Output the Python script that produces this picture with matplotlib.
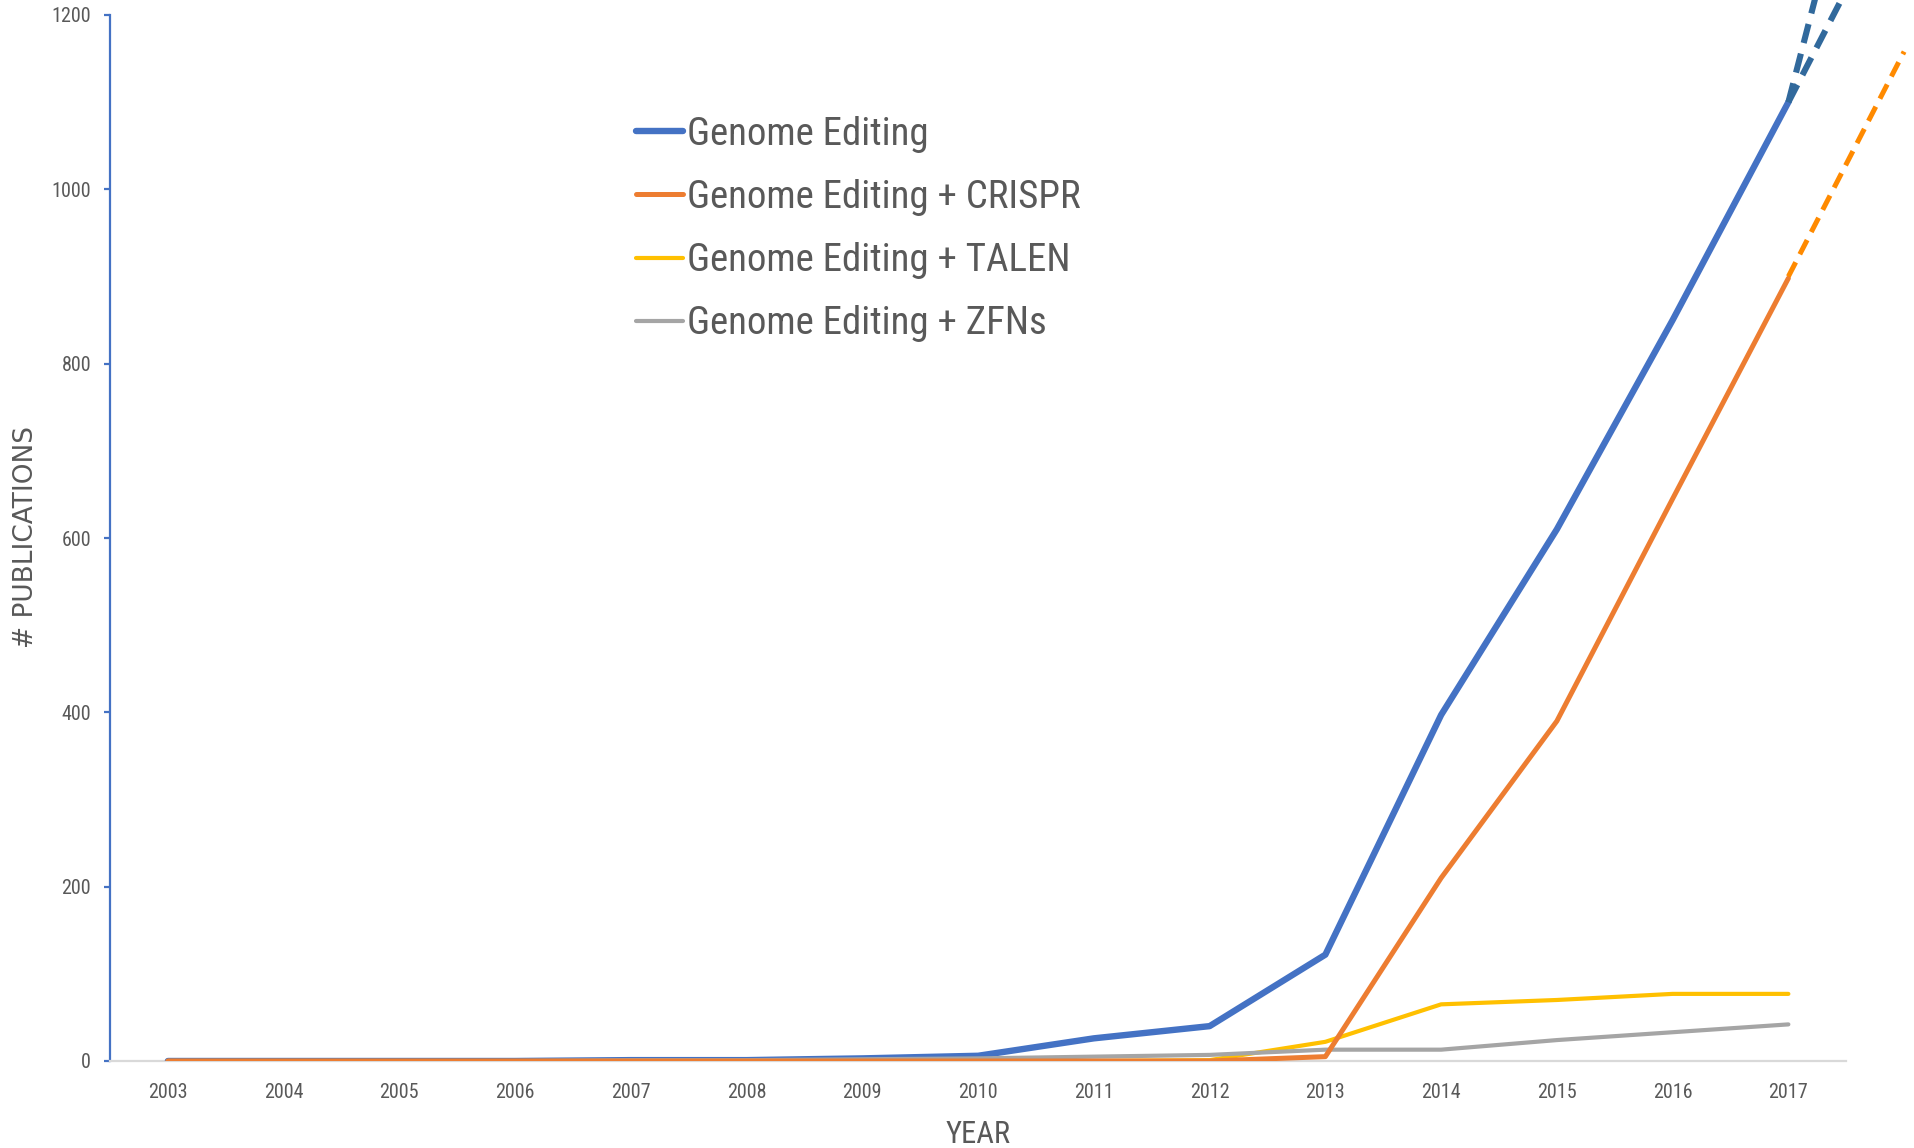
import matplotlib
matplotlib.use("Agg")
import matplotlib.pyplot as plt
import numpy as np

# publications per year
years = [2003, 2004, 2005, 2006, 2007, 2008, 2009, 2010,
         2011, 2012, 2013, 2014, 2015, 2016, 2017]
genome_editing = [0, 0, 0, 0, 1, 1, 3, 6, 26, 40, 122, 397, 610, 850, 1100]
ge_crispr = [0, 0, 0, 0, 0, 0, 0, 0, 0, 0, 5, 210, 390, 645, 898]
ge_talen = [0, 0, 0, 0, 0, 0, 0, 0, 0, 1, 22, 65, 70, 77, 77]
ge_zfn = [0, 0, 0, 0, 1, 1, 2, 3, 5, 7, 13, 13, 24, 33, 42]

# dashed projections out of 2017
proj_years = [2017, 2018]
proj_blue_a = [1100, 1614]
proj_blue_b = [1100, 1357]
proj_orange = [900, 1158]

labels = ["Genome Editing", "Genome Editing + CRISPR",
          "Genome Editing + TALEN", "Genome Editing + ZFNs"]
yticks = [0, 200, 400, 600, 800, 1000, 1200]

txt = "#595959"
cond = dict(family=["Roboto Condensed", "DejaVu Sans"], weight="normal")

W, H = 1915, 1148
fig = plt.figure(figsize=(W / 100, H / 100), dpi=100)
# axes box in pixels: y axis at x=110, zero at y=1061, 1200 at y=15
ax = fig.add_axes([110 / W, 1 - 1061 / H, (W - 110) / W, (1061 - 15) / H])

x = np.arange(len(years))
step_px = 115.75
ax.set_xlim(-0.5, -0.5 + (W - 110) / step_px)
ax.set_ylim(0, 1200)

ax.plot(x, genome_editing, color="#4472C4", lw=4.6, solid_capstyle="round",
        solid_joinstyle="round", label=labels[0], zorder=3)
ax.plot(x, ge_crispr, color="#ED7D31", lw=3.6, solid_capstyle="round",
        solid_joinstyle="round", label=labels[1], zorder=4)
ax.plot(x, ge_talen, color="#FFC000", lw=3.0, solid_capstyle="round",
        solid_joinstyle="round", label=labels[2], zorder=3)
ax.plot(x, ge_zfn, color="#A5A5A5", lw=3.0, solid_capstyle="round",
        solid_joinstyle="round", label=labels[3], zorder=3)

px = np.array(proj_years) - years[0]
for vals, col, lw in [(proj_blue_a, "#31699C", 4.4), (proj_blue_b, "#31699C", 4.4),
                      (proj_orange, "#FF8A00", 3.6)]:
    ax.plot(px, vals, color=col, lw=lw, dashes=(3.2, 1.8), clip_on=False, zorder=5)

# spines: blue y axis, light grey x axis ending at the last category slot
for s in ["top", "right"]:
    ax.spines[s].set_visible(False)
ax.spines["left"].set_color("#4472C4")
ax.spines["left"].set_linewidth(1.6)
ax.spines["bottom"].set_color("#D9D9D9")
ax.spines["bottom"].set_linewidth(1.6)
ax.spines["bottom"].set_bounds(-0.5, len(years) - 0.5)

ax.set_yticks(yticks)
ax.set_yticklabels([str(v) for v in yticks])
ax.tick_params(axis="y", direction="out", length=4.5, width=1.6,
               color="#4472C4", pad=9, labelcolor=txt)
ax.set_xticks(x)
ax.set_xticklabels([str(y) for y in years])
ax.tick_params(axis="x", length=0, pad=16, labelcolor=txt)
for lab in ax.get_xticklabels() + ax.get_yticklabels():
    lab.set(**cond)
    lab.set_fontsize(14.5)

fig.text(978 / W, 1 - 1143 / H, "YEAR", fontsize=22, color=txt,
         ha="center", va="baseline", **cond)
fig.text(26 / W, 1 - 537 / H, "# PUBLICATIONS", family="DejaVu Sans",
         fontsize=19, color=txt, rotation=90, ha="center", va="center")

leg = ax.legend(loc="upper left", bbox_to_anchor=(636 / W, 1 - 116 / H),
                bbox_transform=fig.transFigure, frameon=False,
                prop=dict(size=28, **cond), handlelength=1.2,
                handletextpad=0.1, labelspacing=0.67, borderpad=0,
                borderaxespad=0)
for t in leg.get_texts():
    t.set_color(txt)

fig.savefig("out.png", dpi=100)
